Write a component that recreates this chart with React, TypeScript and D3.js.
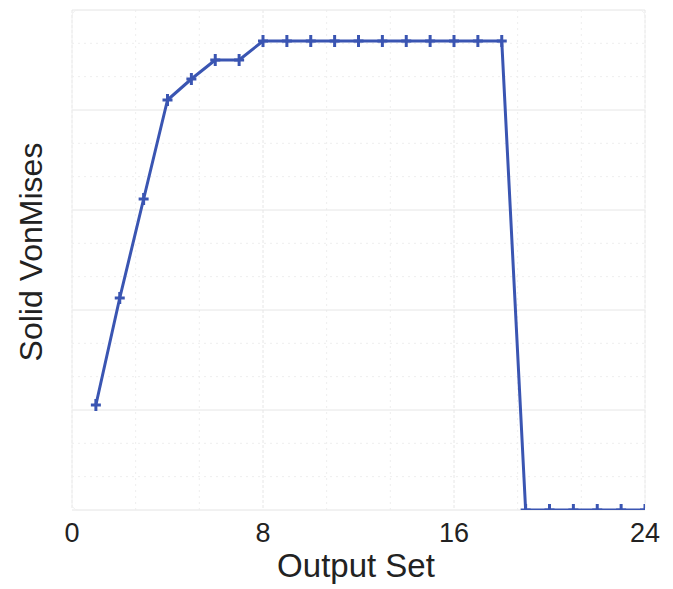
import React, { useRef, useEffect } from 'react';
import * as d3 from 'd3';

// output set index and solid von Mises (relative units, no y labels in the source)
const outputSets = [1, 2, 3, 4, 5, 6, 7, 8, 9, 10, 11, 12, 13, 14, 15, 16, 17, 18, 19, 20, 21, 22, 23, 24];
const vonMises = [1.05, 2.12, 3.11, 4.1, 4.31, 4.5, 4.5, 4.69, 4.69, 4.69, 4.69, 4.69, 4.69, 4.69, 4.69, 4.69, 4.69, 4.69, 0, 0, 0, 0, 0, 0];
const xTicks = [0, 8, 16, 24];

function App() {
  const ref = useRef<SVGSVGElement>(null);

  useEffect(() => {
    if (!ref.current) return;
    const svg = d3.select(ref.current);
    svg.selectAll('*').remove();

    const left = 72, right = 645, top = 10, bottom = 510;
    const x = d3.scaleLinear().domain([0, 24]).range([left, right]);
    const y = d3.scaleLinear().domain([0, 5]).range([bottom, top]);
    const font = "'Liberation Sans', Arial, sans-serif";

    // grid: minor lines every third of a major step
    const xGrid = d3.range(0, 24.01, 8 / 3);
    const yGrid = d3.range(0, 5.01, 1 / 3);
    const grid = svg.append('g');
    grid.selectAll('line.gx')
      .data(xGrid)
      .enter().append('line')
      .attr('class', 'gx')
      .attr('x1', d => x(d)).attr('x2', d => x(d))
      .attr('y1', top).attr('y2', bottom)
      .attr('stroke', (_, i) => (i % 3 === 0 ? '#e6e6e6' : '#eeeeee'))
      .attr('stroke-dasharray', (_, i) => (i % 3 === 0 ? '3,2' : '2,4'));
    grid.selectAll('line.gy')
      .data(yGrid)
      .enter().append('line')
      .attr('class', 'gy')
      .attr('x1', left).attr('x2', right)
      .attr('y1', d => y(d)).attr('y2', d => y(d))
      .attr('stroke', (_, i) => (i % 3 === 0 ? '#e6e6e6' : '#eeeeee'))
      .attr('stroke-dasharray', (_, i) => (i % 3 === 0 ? null : '2,4'));

    svg.append('rect')
      .attr('x', left).attr('y', top)
      .attr('width', right - left).attr('height', bottom - top)
      .attr('rx', 6)
      .attr('fill', 'none')
      .attr('stroke', '#f0f0f0');

    svg.append('clipPath').attr('id', 'plot-clip')
      .append('rect')
      .attr('x', left).attr('y', top - 2)
      .attr('width', right - left).attr('height', bottom - top + 2);

    const data = outputSets.map((s, i) => ({ s, v: vonMises[i] }));
    const color = '#3a55b2';
    const plot = svg.append('g').attr('clip-path', 'url(#plot-clip)');

    const line = d3.line<{ s: number; v: number }>()
      .x(d => x(d.s))
      .y(d => y(d.v));

    plot.append('path')
      .datum(data)
      .attr('d', line)
      .attr('fill', 'none')
      .attr('stroke', color)
      .attr('stroke-width', 3)
      .attr('stroke-linejoin', 'round');

    // plus markers
    const marks = plot.selectAll('g.mark')
      .data(data)
      .enter().append('g')
      .attr('class', 'mark')
      .attr('transform', d => `translate(${x(d.s)}, ${y(d.v)})`);
    marks.append('line')
      .attr('x1', 0).attr('x2', 0).attr('y1', -6).attr('y2', 6)
      .attr('stroke', color).attr('stroke-width', 3);
    marks.append('line')
      .attr('x1', -5).attr('x2', 5).attr('y1', 0).attr('y2', 0)
      .attr('stroke', color).attr('stroke-width', 3);

    svg.selectAll('text.tick')
      .data(xTicks)
      .enter().append('text')
      .attr('class', 'tick')
      .attr('x', d => x(d))
      .attr('y', 542)
      .attr('text-anchor', 'middle')
      .attr('fill', '#222')
      .style('font-family', font)
      .style('font-size', '27px')
      .text(d => d);

    svg.append('text')
      .attr('x', 356)
      .attr('y', 577)
      .attr('text-anchor', 'middle')
      .attr('fill', '#222')
      .style('font-family', font)
      .style('font-size', '33px')
      .text('Output Set');

    svg.append('text')
      .attr('transform', 'translate(42, 252) rotate(-90)')
      .attr('text-anchor', 'middle')
      .attr('fill', '#222')
      .style('font-family', font)
      .style('font-size', '32px')
      .text('Solid VonMises');
  }, []);

  return (
    <svg ref={ref} width={673} height={589}
      style={{ position: 'absolute', left: 0, top: 0, background: '#fff' }} />
  );
}

export default App;
